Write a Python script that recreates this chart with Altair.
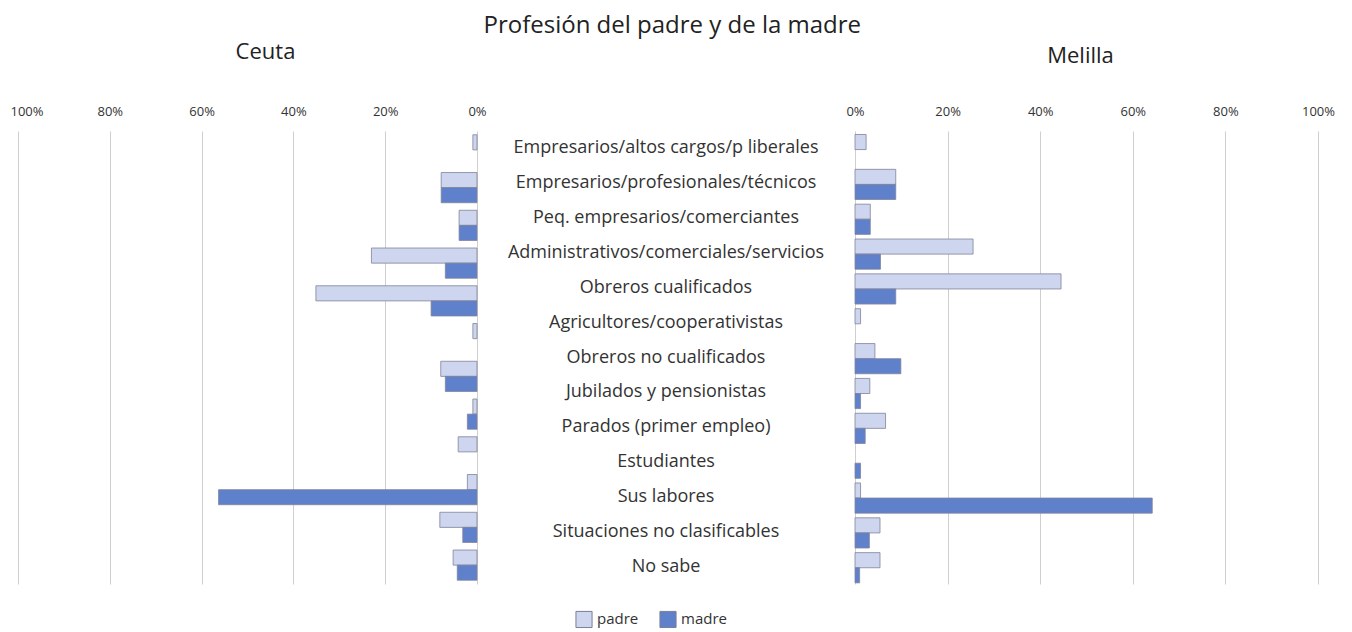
import altair as alt
import pandas as pd

categories = [
    "Empresarios/altos cargos/p liberales",
    "Empresarios/profesionales/técnicos",
    "Peq. empresarios/comerciantes",
    "Administrativos/comerciales/servicios",
    "Obreros cualificados",
    "Agricultores/cooperativistas",
    "Obreros no cualificados",
    "Jubilados y pensionistas",
    "Parados (primer empleo)",
    "Estudiantes",
    "Sus labores",
    "Situaciones no clasificables",
    "No sabe",
]
series = ["padre", "madre"]
ceuta_padre = [0.9, 7.8, 3.9, 23.0, 35.1, 0.9, 7.9, 0.9, 4.1, 0.0, 2.1, 8.1, 5.2]
ceuta_madre = [0.0, 7.8, 3.9, 6.9, 10.0, 0.0, 6.9, 2.1, 0.0, 0.0, 56.3, 3.1, 4.3]
melilla_padre = [2.4, 8.8, 3.3, 25.5, 44.5, 1.2, 4.3, 3.2, 6.6, 0.0, 1.2, 5.4, 5.4]
melilla_madre = [0.0, 8.8, 3.3, 5.5, 8.8, 0.0, 9.9, 1.2, 2.2, 1.2, 64.2, 3.1, 1.0]
tick_values = [0, 20, 40, 60, 80, 100]

rows = []
for i, c in enumerate(categories):
    rows.append(dict(cat=c, serie="padre", ciudad="Ceuta", valor=ceuta_padre[i]))
    rows.append(dict(cat=c, serie="madre", ciudad="Ceuta", valor=ceuta_madre[i]))
    rows.append(dict(cat=c, serie="padre", ciudad="Melilla", valor=melilla_padre[i]))
    rows.append(dict(cat=c, serie="madre", ciudad="Melilla", valor=melilla_madre[i]))
df = pd.DataFrame(rows)
cats_df = pd.DataFrame({"cat": categories})

FONT = "Open Sans"
TXT = "#333333"
PADRE = "#cdd5ef"
MADRE = "#5f80cb"
H = 453

y_enc = alt.Y("cat:N", sort=categories, axis=None,
              scale=alt.Scale(paddingInner=0.2, paddingOuter=0.1))
yoff = alt.YOffset("serie:N", sort=series,
                   scale=alt.Scale(domain=series, paddingInner=0, paddingOuter=0))
color = alt.Color("serie:N", sort=series,
                  scale=alt.Scale(domain=series, range=[PADRE, MADRE]),
                  legend=alt.Legend(title=None, orient="none", direction="horizontal",
                                    legendX=557, legendY=479,
                                    symbolType="square", symbolSize=260,
                                    symbolStrokeColor="#7c7f95", symbolStrokeWidth=1,
                                    labelFont=FONT, labelFontSize=15, labelColor=TXT,
                                    columnPadding=18))


def x_axis(title, title_x, title_y, left_panel):
    kw = dict(orient="top", values=tick_values, labelExpr="datum.value + '%'",
              grid=True, gridColor="#cfcfcf", gridWidth=1, ticks=False, domain=False,
              labelFlush=False, labelPadding=13, labelFont=FONT, labelFontSize=13,
              labelColor=TXT, title=title, titleX=title_x, titleY=title_y,
              titleAlign="center", titleBaseline="middle", titleFont=FONT,
              titleFontSize=22, titleFontWeight="normal", titleColor="#222222")
    if left_panel:
        kw["labelAlign"] = {"condition": {"test": "datum.value == 100", "value": "left"},
                            "value": "center"}
        kw["labelOffset"] = {"condition": {"test": "datum.value == 100", "value": -8},
                             "value": 0}
    return alt.Axis(**kw)


left = alt.Chart(df).transform_filter(
    "datum.ciudad == 'Ceuta' && datum.valor > 0"
).mark_bar(stroke="#80839a", strokeWidth=0.8).encode(
    x=alt.X("valor:Q", scale=alt.Scale(domain=[0, 100], reverse=True, nice=False),
            axis=x_axis("Ceuta", 247, -80, True)),
    y=y_enc, yOffset=yoff, color=color,
).properties(width=459, height=H)

middle = alt.Chart(cats_df).mark_text(
    font=FONT, fontSize=18, color=TXT, align="center", baseline="middle"
).encode(
    y=y_enc, text="cat:N", x=alt.value(189),
).properties(width=378, height=H)

right = alt.Chart(df).transform_filter(
    "datum.ciudad == 'Melilla' && datum.valor > 0"
).mark_bar(stroke="#80839a", strokeWidth=0.8).encode(
    x=alt.X("valor:Q", scale=alt.Scale(domain=[0, 100], nice=False),
            axis=x_axis("Melilla", 225, -76, False)),
    y=y_enc, yOffset=yoff, color=color,
).properties(width=463, height=H)

chart = alt.hconcat(left, middle, right, spacing=0, bounds="flush").properties(
    title=alt.TitleParams("Profesión del padre y de la madre", font=FONT, fontSize=24,
                          fontWeight="normal", color="#222222", anchor="middle", offset=2),
    padding={"left": 2, "top": 6, "right": 5, "bottom": 2},
    background="white",
).configure_view(strokeWidth=0, stroke="transparent")

chart.save("out.html", embed_options={"renderer": "svg", "actions": False})
